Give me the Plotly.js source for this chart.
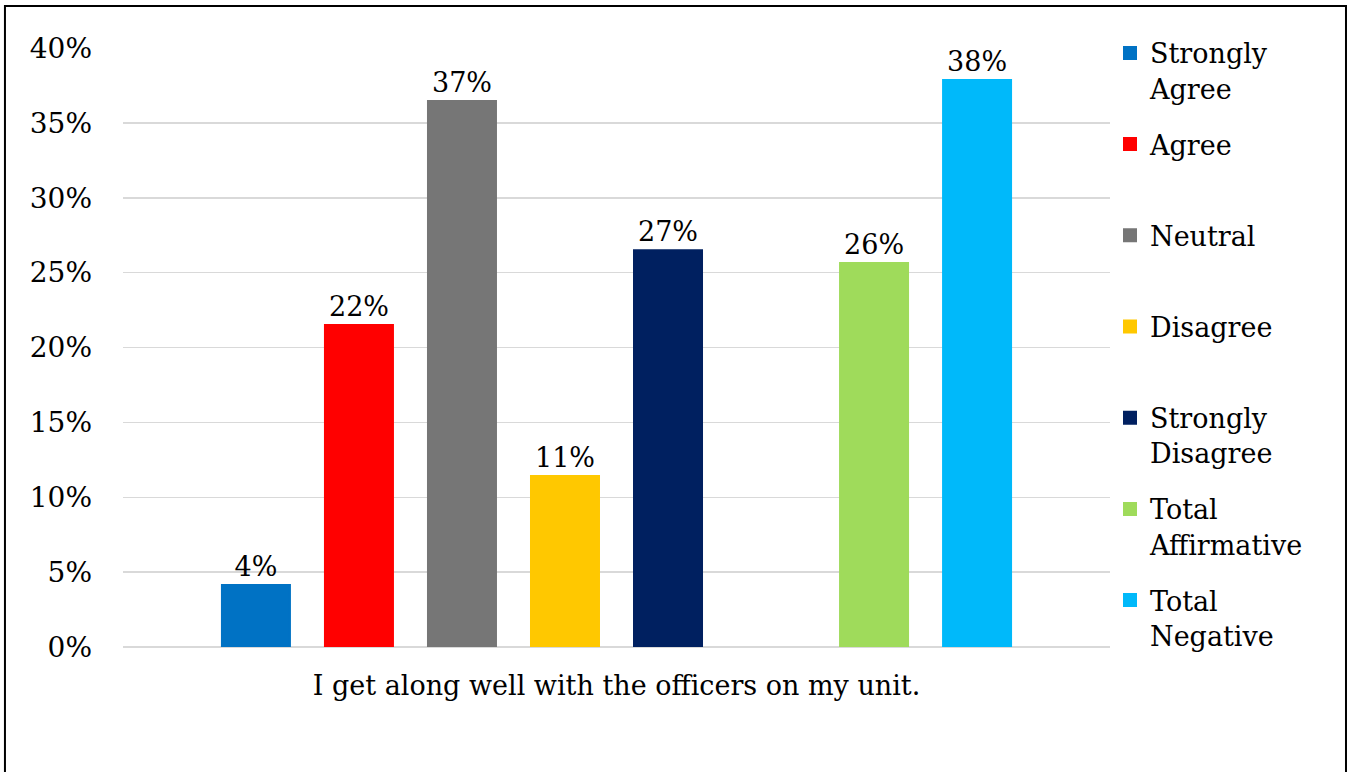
<!DOCTYPE html>
<html>
<head>
<meta charset="utf-8">
<script src="https://cdn.plot.ly/plotly-3.0.1.min.js"></script>
<style>
html,body{margin:0;padding:0;background:#fff;}
#chart{width:1351px;height:772px;}
</style>
</head>
<body>
<div id="chart"></div>
<script>
var category = "I get along well with the officers on my unit.";
var seriesNames = ["Strongly<br>Agree", "Agree<br> ", "Neutral<br> ", "Disagree<br> ", "Strongly<br>Disagree", "", "Total<br>Affirmative", "Total<br>Negative"];
var seriesValues = [0.0414, 0.215, 0.3646, 0.1142, 0.265, null, 0.2564, 0.3786];
var seriesLabels = ["4%", "22%", "37%", "11%", "27%", "", "26%", "38%"];
var seriesColors = ["#0072C4", "#FF0000", "#767676", "#FFC800", "#002060", "#FFFFFF", "#9FDB5B", "#00B9FA"];

var FONT = "DejaVu Serif, Georgia, serif";

var traces = seriesNames.map(function(name, i) {
  return {
    type: "bar",
    name: name,
    x: [category],
    y: [seriesValues[i]],
    text: [seriesLabels[i]],
    textposition: "outside",
    cliponaxis: false,
    textfont: {family: FONT, size: 27, color: "#000"},
    marker: {color: seriesColors[i], line: {width: name === "" ? 0 : 2, color: seriesColors[i]}},
    showlegend: name !== "",
    legendgroup: "g" + i,
    hoverinfo: "skip"
  };
});

var layout = {
  width: 1351,
  height: 772,
  margin: {l: 123, r: 241, t: 48, b: 125},
  paper_bgcolor: "#fff",
  plot_bgcolor: "#fff",
  barmode: "group",
  bargap: 0.165,
  bargroupgap: 0.34,
  font: {family: FONT, color: "#000"},
  xaxis: {
    type: "category",
    showgrid: false,
    showline: false,
    zeroline: false,
    ticks: "",
    tickfont: {family: FONT, size: 27, color: "#000"},
    ticklabelstandoff: 20,
    fixedrange: true
  },
  yaxis: {
    range: [0, 0.4],
    dtick: 0.05,
    tickformat: ".0%",
    showgrid: true,
    gridcolor: "#D9D9D9",
    gridwidth: 1.5,
    zeroline: true,
    zerolinecolor: "#D9D9D9",
    zerolinewidth: 1.5,
    showline: false,
    ticks: "",
    tickfont: {family: FONT, size: 28, color: "#000"},
    ticklabelstandoff: 30,
    fixedrange: true
  },
  legend: {
    x: 1.0,
    xanchor: "left",
    y: 1.032,
    yanchor: "top",
    valign: "top",
    font: {family: FONT, size: 27, color: "#000"},
    tracegroupgap: 18,
    itemwidth: 30,
    maxheight: 760,
    bgcolor: "rgba(0,0,0,0)"
  },
  shapes: [{
    type: "rect",
    xref: "paper", yref: "paper",
    x0: -0.1196, x1: 1.2391, y0: -0.3, y1: 1.0701,
    line: {color: "#000", width: 2},
    fillcolor: "rgba(0,0,0,0)",
    layer: "above"
  }]
};

Plotly.newPlot("chart", traces, layout, {displayModeBar: false, staticPlot: true});
</script>
</body>
</html>
